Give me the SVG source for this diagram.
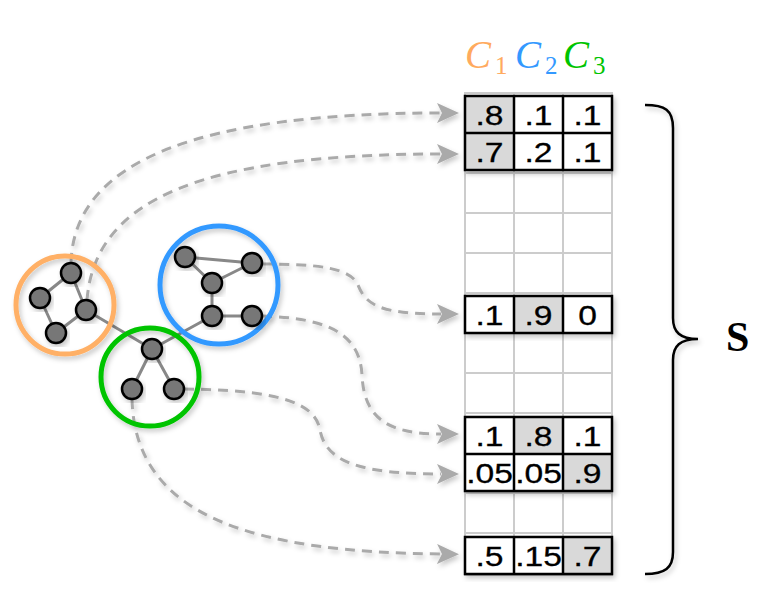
<svg xmlns="http://www.w3.org/2000/svg" width="777" height="597" viewBox="0 0 777 597">
<defs>
<filter id="sh" x="-20%" y="-20%" width="140%" height="140%">
<feDropShadow dx="2" dy="3" stdDeviation="2.5" flood-color="#000" flood-opacity="0.22"/>
</filter>
<marker id="arr" viewBox="0 0 22 22" refX="4" refY="11" markerWidth="22" markerHeight="22" orient="auto" markerUnits="userSpaceOnUse">
<path d="M0,1 L22,11 L0,21 L5,11 Z" fill="#aaaaaa"/>
</marker>
<style>
.conn{fill:none;stroke:#aaaaaa;stroke-width:3;stroke-dasharray:10 7;marker-end:url(#arr)}
.edge{stroke:#888888;stroke-width:3;fill:none}
.nd{fill:#777777;stroke:#000;stroke-width:2.5}
.clu{fill:none;stroke-width:5}
.grid{stroke:#cccccc;stroke-width:2;fill:none}
.box{fill:none;stroke:#000;stroke-width:2.5}
.hl{fill:#d9d9d9}
.cell{font-family:"Liberation Sans",Arial,sans-serif;font-size:28px;text-anchor:middle;fill:#000;stroke:#000;stroke-width:0.3}
.cal{font-family:"Liberation Serif","Times New Roman",serif;font-style:italic;font-size:39px}
.sub{font-family:"Liberation Serif","Times New Roman",serif;font-size:25px}
</style>
</defs>
<rect width="777" height="597" fill="#ffffff"/>

<!-- header -->
<g id="headers">
<text class="cal" x="465" y="68" fill="#FFAA5E">C</text><text class="sub" x="495" y="74" fill="#FFAA5E">1</text>
<text class="cal" x="515" y="68" fill="#3399FF">C</text><text class="sub" x="545" y="74" fill="#3399FF">2</text>
<text class="cal" x="563" y="68" fill="#00C400">C</text><text class="sub" x="593" y="74" fill="#00C400">3</text>
</g>

<!-- grid -->
<g id="matrix-grid">
<rect x="465" y="93" width="147" height="482" fill="#ffffff" class="grid"/>
<path class="grid" d="M514,93 V575 M563,93 V575 M465,133 H612 M465,173 H612 M465,213 H612 M465,253 H612 M465,293 H612 M465,333 H612 M465,373 H612 M465,413 H612 M465,453 H612 M465,493 H612 M465,533 H612"/>
</g>

<!-- highlighted rows -->
<g id="rows1-2" filter="url(#sh)">
<rect x="465" y="96" width="147" height="74" fill="#ffffff"/>
<rect class="hl" x="465" y="96" width="49" height="74"/>
<rect class="box" x="465" y="96" width="147" height="74"/>
<path class="box" d="M465,133 H612 M514,96 V170 M563,96 V170"/>
</g>
<g id="rows1-2-text">
<text class="cell" transform="translate(489.5,125) scale(1.2,1)">.8</text>
<text class="cell" transform="translate(538.5,125) scale(1.2,1)">.1</text>
<text class="cell" transform="translate(587.5,125) scale(1.2,1)">.1</text>
<text class="cell" transform="translate(489.5,162) scale(1.2,1)">.7</text>
<text class="cell" transform="translate(538.5,162) scale(1.2,1)">.2</text>
<text class="cell" transform="translate(587.5,162) scale(1.2,1)">.1</text>
</g>

<g id="row6" filter="url(#sh)">
<rect x="465" y="296" width="147" height="37" fill="#ffffff"/>
<rect class="hl" x="514" y="296" width="49" height="37"/>
<rect class="box" x="465" y="296" width="147" height="37"/>
<path class="box" d="M514,296 V333 M563,296 V333"/>
</g>
<g id="row6-text">
<text class="cell" transform="translate(489.5,325) scale(1.2,1)">.1</text>
<text class="cell" transform="translate(538.5,325) scale(1.2,1)">.9</text>
<text class="cell" transform="translate(587.5,325) scale(1.2,1)">0</text>
</g>

<g id="rows9-10" filter="url(#sh)">
<rect x="465" y="417" width="147" height="74" fill="#ffffff"/>
<rect class="hl" x="514" y="417" width="49" height="37"/>
<rect class="hl" x="563" y="454" width="49" height="37"/>
<rect class="box" x="465" y="417" width="147" height="74"/>
<path class="box" d="M465,454 H612 M514,417 V491 M563,417 V491"/>
</g>
<g id="rows9-10-text">
<text class="cell" transform="translate(489.5,446) scale(1.2,1)">.1</text>
<text class="cell" transform="translate(538.5,446) scale(1.2,1)">.8</text>
<text class="cell" transform="translate(587.5,446) scale(1.2,1)">.1</text>
<text class="cell" transform="translate(489.5,483) scale(1.2,1)">.05</text>
<text class="cell" transform="translate(538.5,483) scale(1.2,1)">.05</text>
<text class="cell" transform="translate(587.5,483) scale(1.2,1)">.9</text>
</g>

<g id="row12" filter="url(#sh)">
<rect x="465" y="537" width="147" height="37" fill="#ffffff"/>
<rect class="hl" x="563" y="537" width="49" height="37"/>
<rect class="box" x="465" y="537" width="147" height="37"/>
<path class="box" d="M514,537 V574 M563,537 V574"/>
</g>
<g id="row12-text">
<text class="cell" transform="translate(489.5,566) scale(1.2,1)">.5</text>
<text class="cell" transform="translate(538.5,566) scale(1.2,1)">.15</text>
<text class="cell" transform="translate(587.5,566) scale(1.2,1)">.7</text>
</g>

<!-- connectors -->
<g id="connectors" filter="url(#sh)">
<path class="conn" d="M71,263 C74,160 200,113 441,113"/>
<path class="conn" d="M87,300 C95,200 200,154 441,154"/>
<path class="conn" d="M262,264 C320,264 350,268 358,285 C366,305 380,314 441,314"/>
<path class="conn" d="M262,316 C330,318 360,335 362,375 C364,420 390,434 441,434"/>
<path class="conn" d="M184,389 C270,390 315,400 320,430 C326,462 360,474 441,474"/>
<path class="conn" d="M132,399 C135,520 260,552 441,554"/>
</g>

<!-- graph edges -->
<g id="graph-edges">
<path class="edge" d="M71,273 L40,298 M71,273 L86,310 M40,298 L56,333 M56,333 L86,310 M86,310 L152,349 M152,349 L132,389 M152,349 L174,389 M152,349 L212,316 M185,257 L252,263 M185,257 L212,283 M212,283 L252,263 M212,283 L212,316 M212,316 L252,316"/>
</g>

<!-- clusters -->
<g id="cluster-1" filter="url(#sh)"><circle class="clu" cx="65" cy="305" r="49" stroke="#FFB066"/></g>
<g id="cluster-2" filter="url(#sh)"><circle class="clu" cx="219" cy="285" r="59" stroke="#3399FF"/></g>
<g id="cluster-3" filter="url(#sh)"><circle class="clu" cx="150" cy="377" r="49" stroke="#00C400"/></g>

<!-- nodes -->
<g id="n1" filter="url(#sh)"><circle class="nd" cx="71" cy="273" r="10"/></g>
<g id="n2" filter="url(#sh)"><circle class="nd" cx="40" cy="298" r="10"/></g>
<g id="n3" filter="url(#sh)"><circle class="nd" cx="86" cy="310" r="10"/></g>
<g id="n4" filter="url(#sh)"><circle class="nd" cx="56" cy="333" r="10"/></g>
<g id="n5" filter="url(#sh)"><circle class="nd" cx="185" cy="257" r="10"/></g>
<g id="n6" filter="url(#sh)"><circle class="nd" cx="252" cy="263" r="10"/></g>
<g id="n7" filter="url(#sh)"><circle class="nd" cx="212" cy="283" r="10"/></g>
<g id="n8" filter="url(#sh)"><circle class="nd" cx="212" cy="316" r="10"/></g>
<g id="n9" filter="url(#sh)"><circle class="nd" cx="252" cy="316" r="10"/></g>
<g id="n10" filter="url(#sh)"><circle class="nd" cx="152" cy="349" r="10"/></g>
<g id="n11" filter="url(#sh)"><circle class="nd" cx="132" cy="389" r="10"/></g>
<g id="n12" filter="url(#sh)"><circle class="nd" cx="174" cy="389" r="10"/></g>

<!-- brace and label -->
<g id="brace" filter="url(#sh)">
<path d="M645,105 C665,105 673,110 673,128 L673,318 C673,332 680,339 698,339 C680,339 673,346 673,360 L673,552 C673,568 665,574 645,574" fill="none" stroke="#000" stroke-width="2.5"/>
</g>
<g id="label-S">
<text x="726" y="351" font-family="'Liberation Serif','Times New Roman',serif" font-weight="bold" font-size="42">S</text>
</g>
</svg>
